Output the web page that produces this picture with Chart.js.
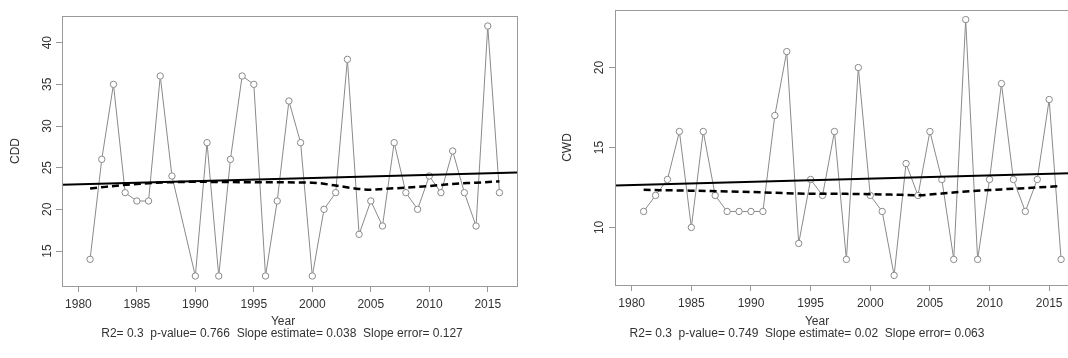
<!DOCTYPE html>
<html>
<head>
<meta charset="utf-8">
<script src="https://cdn.jsdelivr.net/npm/chart.js@4.4.1/dist/chart.umd.min.js"></script>
<style>
body { margin:0; background:#fff; width:1068px; height:358px; overflow:hidden; position:relative; }
#cdd { position:absolute; left:0; top:0; }
#cwd { position:absolute; left:534px; top:0; }
</style>
</head>
<body>
<canvas id="cdd" width="534" height="358"></canvas>
<canvas id="cwd" width="560" height="358"></canvas>
<script>
// yearly values
var years = [1981, 1982, 1983, 1984, 1985, 1986, 1987, 1988, 1989, 1990,
             1991, 1992, 1993, 1994, 1995, 1996, 1997, 1998, 1999, 2000,
             2001, 2002, 2003, 2004, 2005, 2006, 2007, 2008, 2009, 2010,
             2011, 2012, 2013, 2014, 2015, 2016];
var cdd = [14, 26, 35, 22, 21, 21, 36, 24, null, 12,
           28, 12, 26, 36, 35, 12, 21, 33, 28, 12,
           20, 22, 38, 17, 21, 18, 28, 22, 20, 24,
           22, 27, 22, 18, 42, 22];
var cwd = [11, 12, 13, 16, 10, 16, 12, 11, 11, 11,
           11, 17, 21, 9, 13, 12, 16, 8, 20, 12,
           11, 7, 14, 12, 16, 13, 8, 23, 8, 13,
           19, 13, 11, 13, 18, 8];

// linear trend (solid) end points
var trendYears = [1978.6, 2017.5];
var cddTrend = [22.95, 24.42];
var cwdTrend = [12.63, 13.40];

// smooth curve (dashed)
var cddSmoothYears = [1981, 1985, 1990, 1995, 2000, 2002, 2004, 2005, 2006, 2008, 2010, 2012, 2014, 2016];
var cddSmooth = [22.5, 23.05, 23.3, 23.25, 23.2, 22.85, 22.45, 22.35, 22.45, 22.6, 22.8, 23.05, 23.2, 23.36];
var cwdSmoothYears = [1981, 1985, 1990, 1994, 1998, 2002, 2004, 2006, 2008, 2011, 2014, 2016];
var cwdSmooth = [12.35, 12.3, 12.22, 12.12, 12.1, 12.05, 12.02, 12.12, 12.25, 12.38, 12.5, 12.59];

var xTicks = [1980, 1985, 1990, 1995, 2000, 2005, 2010, 2015];
var cddTicks = [15, 20, 25, 30, 35, 40];
var cwdTicks = [10, 15, 20];

var FONT = '"Liberation Sans", Arial, sans-serif';

function pts(xs, ys) {
    return xs.map(function(x, i) { return { x: x, y: ys[i] }; });
}

// box, rotated y labels and the texts under the plot, R style
var rStyle = {
    id: 'rStyle',
    afterDraw: function(chart, args, opts) {
        var ctx = chart.ctx, a = chart.chartArea, ys = chart.scales.y;
        ctx.save();
        ctx.strokeStyle = '#9a9a9a';
        ctx.lineWidth = 1;
        ctx.strokeRect(a.left + 0.5, a.top + 0.5, a.right - a.left, a.bottom - a.top);
        ctx.fillStyle = '#333';
        ctx.font = '12px ' + FONT;
        ctx.textAlign = 'center';
        ctx.textBaseline = 'middle';
        ys.ticks.forEach(function(t) {
            ctx.save();
            ctx.translate(opts.labelX, ys.getPixelForValue(t.value));
            ctx.rotate(-Math.PI / 2);
            ctx.fillText(String(t.value), 0, 0);
            ctx.restore();
        });
        ctx.save();
        ctx.translate(opts.titleX, (a.top + a.bottom) / 2);
        ctx.rotate(-Math.PI / 2);
        ctx.fillText(opts.title, 0, 0);
        ctx.restore();
        ctx.fillText('Year', opts.yearX, 322);
        ctx.fillText(opts.stats, opts.statsX, 334);
        ctx.restore();
    }
};

function makeChart(id, values, trend, smYears, smooth, yMin, yMax, yTicks, cfg) {
    return new Chart(document.getElementById(id), {
        type: 'line',
        data: {
            datasets: [{
                data: pts(trendYears, trend),
                borderColor: '#000',
                borderWidth: 2,
                pointRadius: 0
            }, {
                data: pts(smYears, smooth),
                borderColor: '#000',
                borderWidth: 2.5,
                borderDash: [7, 4],
                cubicInterpolationMode: 'monotone',
                pointRadius: 0
            }, {
                data: pts(years, values),
                borderColor: '#8a8a8a',
                borderWidth: 1,
                spanGaps: true,
                pointRadius: 3.2,
                pointBorderWidth: 1,
                pointBorderColor: '#8a8a8a',
                pointBackgroundColor: '#fff'
            }]
        },
        options: {
            responsive: false,
            animation: false,
            devicePixelRatio: 1,
            layout: { padding: { top: cfg.top, right: cfg.right, left: 0, bottom: 0 } },
            plugins: {
                legend: { display: false },
                tooltip: { enabled: false },
                rStyle: cfg.r
            },
            scales: {
                x: {
                    type: 'linear',
                    min: 1978.6,
                    max: 2017.5,
                    afterBuildTicks: function(s) { s.ticks = xTicks.map(function(v) { return { value: v }; }); },
                    afterFit: function(s) { s.height = cfg.xHeight; },
                    ticks: {
                        maxRotation: 0,
                        padding: 5,
                        color: '#333',
                        font: { family: FONT, size: 12 },
                        callback: function(v) { return String(v); }
                    },
                    grid: { drawOnChartArea: false, tickLength: 6, color: '#999' },
                    border: { display: false }
                },
                y: {
                    min: yMin,
                    max: yMax,
                    afterBuildTicks: function(s) { s.ticks = yTicks.map(function(v) { return { value: v }; }); },
                    afterFit: function(s) { s.width = cfg.yWidth; },
                    ticks: { display: false },
                    grid: { drawOnChartArea: false, tickLength: 6, color: '#999' },
                    border: { display: false }
                }
            }
        },
        plugins: [rStyle]
    });
}

makeChart('cdd', cdd, cddTrend, cddSmoothYears, cddSmooth, 10.8, 43.2, cddTicks, {
    top: 16, right: 17, xHeight: 72, yWidth: 62,
    r: { labelX: 48, titleX: 16, title: 'CDD', yearX: 283, statsX: 282,
         stats: 'R2= 0.3  p-value= 0.766  Slope estimate= 0.038  Slope error= 0.127' }
});
makeChart('cwd', cwd, cwdTrend, cwdSmoothYears, cwdSmooth, 6.4, 23.6, cwdTicks, {
    top: 10, right: 15, xHeight: 73, yWidth: 81,
    r: { labelX: 66, titleX: 34, title: 'CWD', yearX: 283, statsX: 273,
         stats: 'R2= 0.3  p-value= 0.749  Slope estimate= 0.02  Slope error= 0.063' }
});
</script>
</body>
</html>
